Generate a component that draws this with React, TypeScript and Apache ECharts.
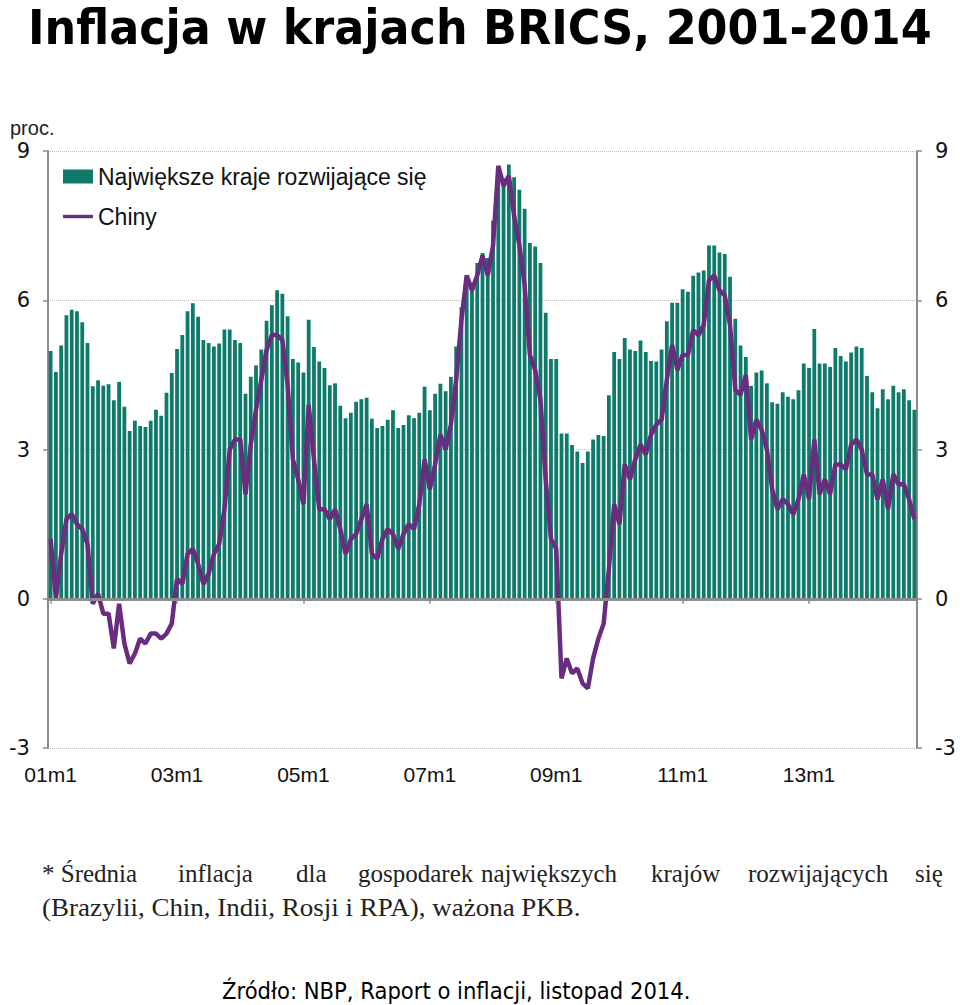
import React, { useEffect, useRef } from "react";
import * as echarts from "echarts";

// ---- categories (monthly, 2001m1 .. 2014m9) ----
const YEARS = ["01", "02", "03", "04", "05", "06", "07", "08", "09", "10", "11", "12", "13", "14"];
const MONTHS_IN_LAST_YEAR = 9;
const categories: string[] = [];
YEARS.forEach((y, yi) => {
  const n = yi === YEARS.length - 1 ? MONTHS_IN_LAST_YEAR : 12;
  for (let m = 1; m <= n; m++) categories.push(`${y}m${m}`);
});

// ---- series values (percent, y/y) ----
// Największe kraje rozwijające się (bars)
const emerging2001 = [4.98, 4.56, 5.09, 5.7, 5.81, 5.78, 5.56, 5.14, 4.27, 4.39, 4.28, 4.31];
const emerging2002 = [3.99, 4.36, 3.86, 3.37, 3.58, 3.47, 3.45, 3.58, 3.8, 3.68, 4.14, 4.54];
const emerging2003 = [5.02, 5.3, 5.78, 5.94, 5.67, 5.2, 5.14, 5.07, 5.13, 5.41, 5.41, 5.2];
const emerging2004 = [5.14, 4.12, 4.46, 4.69, 5.01, 5.59, 5.9, 6.2, 6.13, 5.68, 4.82, 4.75];
const emerging2005 = [4.55, 5.61, 5.06, 4.77, 4.64, 4.29, 4.33, 3.88, 3.63, 3.74, 3.96, 4.01];
const emerging2006 = [4.04, 3.62, 3.43, 3.47, 3.6, 3.79, 3.43, 3.49, 3.69, 3.63, 3.74, 4.26];
const emerging2007 = [3.79, 4.12, 4.32, 4.17, 4.46, 5.07, 5.86, 6.5, 6.35, 6.75, 6.95, 6.85];
const emerging2008 = [7.6, 8.6, 8.45, 8.73, 8.47, 8.22, 7.84, 7.15, 7.08, 6.75, 5.75, 4.82];
const emerging2009 = [4.82, 3.32, 3.32, 3.09, 2.96, 2.73, 2.96, 3.2, 3.29, 3.27, 4.09, 4.96];
const emerging2010 = [4.82, 5.24, 5.01, 4.98, 5.19, 4.96, 4.78, 4.77, 5.01, 5.58, 5.95, 5.95];
const emerging2011 = [6.22, 6.17, 6.49, 6.56, 6.6, 7.1, 7.1, 6.96, 6.93, 6.47, 5.63, 5.09];
const emerging2012 = [4.86, 4.28, 4.55, 4.59, 4.33, 3.95, 3.92, 4.15, 4.06, 4.01, 4.19, 4.73];
const emerging2013 = [4.64, 5.42, 4.73, 4.73, 4.66, 5.04, 4.88, 4.77, 4.95, 5.07, 5.04, 4.48];
const emerging2014 = [4.15, 3.83, 4.21, 4.01, 4.28, 4.15, 4.21, 3.99, 3.8];

// Chiny (line)
const china2001 = [1.2, 0.0, 0.9, 1.6, 1.7, 1.5, 1.4, 1.1, -0.1, 0.1, -0.3, -0.3];
const china2002 = [-1.0, -0.1, -0.9, -1.3, -1.1, -0.8, -0.9, -0.7, -0.7, -0.8, -0.7, -0.5];
const china2003 = [0.4, 0.3, 0.9, 1.0, 0.7, 0.3, 0.5, 0.9, 1.1, 1.8, 3.0, 3.2];
const china2004 = [3.2, 2.1, 3.1, 3.8, 4.4, 5.0, 5.3, 5.3, 5.2, 4.3, 2.8, 2.4];
const china2005 = [1.9, 3.9, 2.8, 1.8, 1.8, 1.6, 1.8, 1.4, 0.9, 1.2, 1.3, 1.6];
const china2006 = [1.9, 0.9, 0.8, 1.2, 1.4, 1.3, 1.0, 1.3, 1.5, 1.4, 1.9, 2.8];
const china2007 = [2.2, 2.7, 3.3, 3.0, 3.5, 4.4, 5.6, 6.5, 6.2, 6.5, 6.9, 6.5];
const china2008 = [7.1, 8.7, 8.3, 8.5, 7.7, 7.1, 6.3, 4.9, 4.6, 4.0, 2.4, 1.2];
const china2009 = [1.0, -1.6, -1.2, -1.5, -1.4, -1.7, -1.8, -1.2, -0.8, -0.5, 0.6, 1.9];
const china2010 = [1.5, 2.7, 2.4, 2.8, 3.1, 2.9, 3.3, 3.5, 3.6, 4.4, 5.1, 4.6];
const china2011 = [4.9, 4.9, 5.4, 5.3, 5.5, 6.4, 6.5, 6.2, 6.1, 5.5, 4.2, 4.1];
const china2012 = [4.5, 3.2, 3.6, 3.4, 3.0, 2.2, 1.8, 2.0, 1.9, 1.7, 2.0, 2.5];
const china2013 = [2.0, 3.2, 2.1, 2.4, 2.1, 2.7, 2.7, 2.6, 3.1, 3.2, 3.0, 2.5];
const china2014 = [2.5, 2.0, 2.4, 1.8, 2.5, 2.3, 2.3, 2.0, 1.6];

const emergingValues = [
  ...emerging2001, ...emerging2002, ...emerging2003, ...emerging2004, ...emerging2005,
  ...emerging2006, ...emerging2007, ...emerging2008, ...emerging2009, ...emerging2010,
  ...emerging2011, ...emerging2012, ...emerging2013, ...emerging2014,
];
const chinaValues = [
  ...china2001, ...china2002, ...china2003, ...china2004, ...china2005,
  ...china2006, ...china2007, ...china2008, ...china2009, ...china2010,
  ...china2011, ...china2012, ...china2013, ...china2014,
];

// ---- axis ----
const Y_MIN = -3;
const Y_MAX = 9;
const Y_STEP = 3;
const LABEL_EVERY = 24; // months between x labels

// ---- texts ----
const TITLE = "Inflacja w krajach BRICS, 2001-2014";
const UNIT = "proc.";
const SERIES_BARS = "Największe kraje rozwijające się";
const SERIES_LINE = "Chiny";
const NOTE_LINE1_WORDS = ["* Średnia", "inflacja", "dla", "gospodarek", "największych", "krajów", "rozwijających", "się"];
const NOTE_LINE1_X = [42, 178, 296, 358, 481, 651, 748, 915];
const NOTE_LINE2 = "(Brazylii, Chin, Indii, Rosji i RPA), ważona PKB.";
const SOURCE = "Źródło: NBP, Raport o inflacji, listopad 2014.";

const BAR_COLOR = "#0D7A6A";
const LINE_COLOR = "#6A2C7E";
const AXIS_COLOR = "#8C8C8C";

export default function App() {
  const ref = useRef<HTMLDivElement>(null);

  useEffect(() => {
    if (!ref.current) return;
    const chart = echarts.init(ref.current, null, { renderer: "svg" });

    const yAxisCommon = {
      type: "value",
      min: Y_MIN,
      max: Y_MAX,
      interval: Y_STEP,
      axisLine: { show: true, onZero: false, lineStyle: { color: AXIS_COLOR, width: 2 } },
      axisTick: { show: true, length: 5, lineStyle: { color: AXIS_COLOR, width: 1.5 } },
      axisLabel: {
        margin: 18,
        fontFamily: "DejaVu Sans",
        fontSize: 21,
        color: "#111",
      },
    };

    const option: any = {
      animation: false,
      backgroundColor: "#fff",
      grid: { left: 48, right: 43, top: 151, bottom: 257, containLabel: false },
      legend: {
        orient: "vertical",
        left: 58,
        top: 160,
        itemWidth: 30,
        itemHeight: 14,
        itemGap: 17,
        symbolKeepAspect: true,
        textStyle: { fontFamily: "Liberation Sans", fontSize: 23, color: "#111" },
        data: [
          { name: SERIES_BARS, icon: "rect" },
          { name: SERIES_LINE, icon: "path://M0,0 L30,0 L30,3.4 L0,3.4 Z" },
        ],
      },
      xAxis: [
        {
          type: "category",
          data: categories,
          position: "bottom",
          axisLine: { show: false, onZero: false },
          axisTick: { show: false },
          axisLabel: {
            interval: LABEL_EVERY - 1,
            margin: 16,
            fontFamily: "Liberation Sans Narrow, Liberation Sans",
            fontSize: 21,
            color: "#111",
          },
          splitLine: { show: false },
        },
        {
          type: "category",
          data: categories,
          position: "bottom",
          z: 5,
          axisLine: { show: true, onZero: true, lineStyle: { color: AXIS_COLOR, width: 3 } },
          axisTick: {
            show: true,
            interval: LABEL_EVERY - 1,
            alignWithLabel: true,
            length: 5,
            lineStyle: { color: AXIS_COLOR, width: 1.5 },
          },
          axisLabel: { show: false },
          splitLine: { show: false },
        },
      ],
      yAxis: [
        {
          ...yAxisCommon,
          position: "left",
          splitLine: { show: true, lineStyle: { type: "dotted", color: "#bdbdbd", width: 1 } },
        },
        {
          ...yAxisCommon,
          position: "right",
          splitLine: { show: false },
        },
      ],
      series: [
        {
          name: SERIES_BARS,
          type: "bar",
          data: emergingValues,
          xAxisIndex: 0,
          yAxisIndex: 0,
          barCategoryGap: "28%",
          itemStyle: { color: BAR_COLOR },
        },
        {
          name: SERIES_LINE,
          type: "line",
          data: chinaValues,
          xAxisIndex: 0,
          yAxisIndex: 0,
          symbol: "none",
          z: 3,
          lineStyle: { color: LINE_COLOR, width: 4.5 },
          itemStyle: { color: LINE_COLOR },
        },
      ],
      graphic: [
        {
          type: "text",
          x: 28,
          y: 3,
          scaleX: 1.03,
          style: {
            text: TITLE,
            font: 'bold 48px "DejaVu Sans Condensed", "DejaVu Sans"',
            fill: "#000",
            verticalAlign: "top",
          },
        },
        {
          type: "text",
          x: 10,
          y: 128,
          style: {
            text: UNIT,
            font: '20px "Liberation Sans"',
            fill: "#222",
            verticalAlign: "middle",
          },
        },
        ...NOTE_LINE1_WORDS.map((w, i) => ({
          type: "text",
          x: NOTE_LINE1_X[i],
          y: 873,
          style: {
            text: w,
            font: '25px "Liberation Serif"',
            fill: "#222",
            verticalAlign: "middle",
          },
        })),
        {
          type: "text",
          x: 42,
          y: 908,
          scaleX: 1.08,
          style: {
            text: NOTE_LINE2,
            font: '25px "Liberation Serif"',
            fill: "#222",
            verticalAlign: "middle",
          },
        },
        {
          type: "text",
          x: 222,
          y: 991,
          style: {
            text: SOURCE,
            font: '23.5px "DejaVu Sans Condensed", "DejaVu Sans"',
            fill: "#000",
            verticalAlign: "middle",
          },
        },
      ],
    };

    chart.setOption(option);
    return () => chart.dispose();
  }, []);

  return (
    <div
      ref={ref}
      style={{ position: "absolute", left: 0, top: 0, width: 960, height: 1005, background: "#fff" }}
    />
  );
}
